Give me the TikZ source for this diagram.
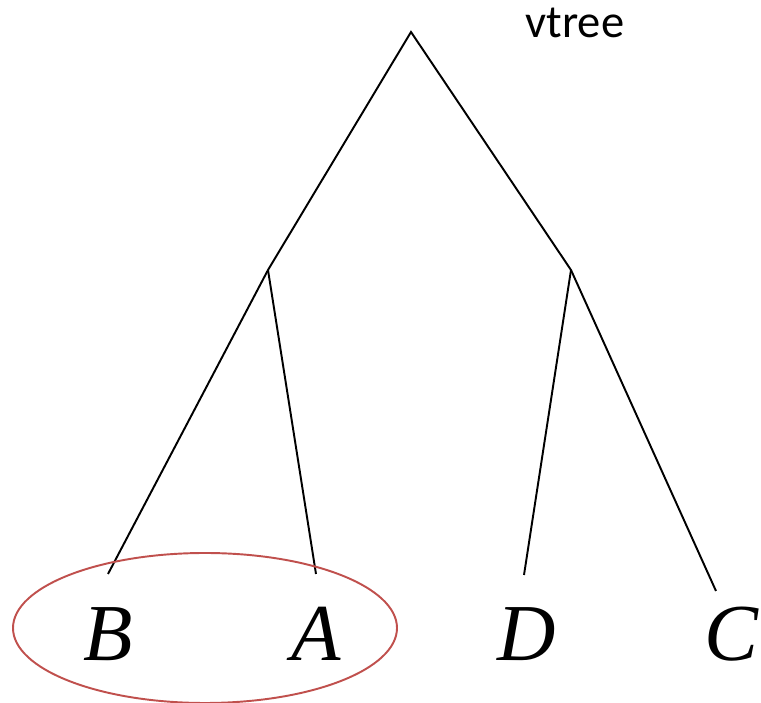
\documentclass[tikz,border=0pt]{standalone}
\usepackage{fontspec}
\setmainfont{Liberation Serif}
\newfontfamily\vtreefont{Carlito}
\definecolor{setred}{RGB}{192,80,77}
\tikzset{
  leaf/.style={anchor=base, inner sep=0pt, font=\fontsize{46}{50}\selectfont\itshape},
  edge/.style={line width=1.1pt},
}
\begin{document}
\begin{tikzpicture}[x=0.2mm, y=-0.2mm]
  \useasboundingbox (0,0) rectangle (761,703);
  \coordinate (R) at (411,32);
  \coordinate (L) at (268,270);
  \coordinate (Rt) at (571,270);
  \coordinate (Bt) at (108,574);
  \coordinate (At) at (316,574);
  \coordinate (Dt) at (524,575);
  \coordinate (Ct) at (716,591);
  \draw[edge] (Bt)--(L)--(R)--(Rt)--(Ct);
  \draw[edge] (L)--(At);
  \draw[edge] (Rt)--(Dt);
  \node[leaf] (B) at (108,661) {B};
  \node[leaf] (A) at (316,661) {A};
  \node[leaf] (D) at (527,661) {D};
  \node[leaf, anchor=base east] (C) at (759,661) {C};
  \node[anchor=base west, inner sep=0pt, font=\vtreefont\fontsize{26.5}{30}\selectfont] (title) at (525,38) {vtree};
  \draw[setred, line width=1.1pt] (205,628) ellipse [x radius=192, y radius=75];
\end{tikzpicture}
\end{document}
